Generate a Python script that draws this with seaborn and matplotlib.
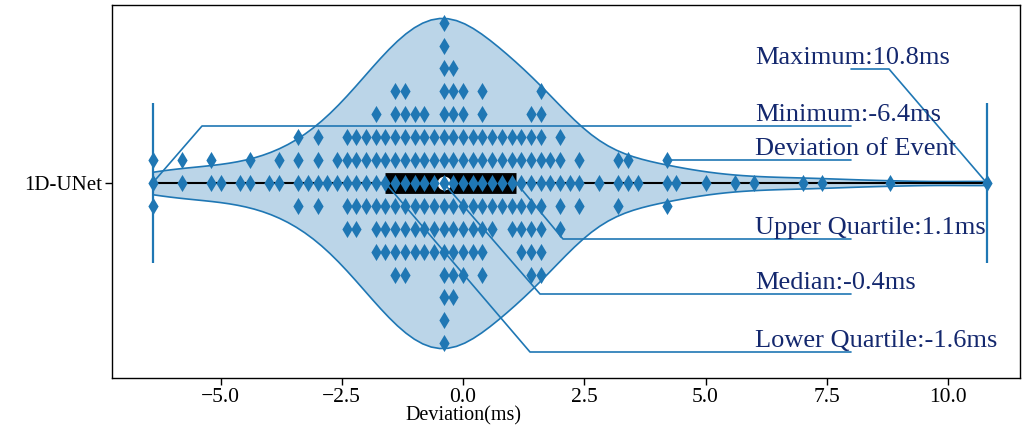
import numpy as np
import matplotlib
matplotlib.use("Agg")
import matplotlib.pyplot as plt
from matplotlib.colors import to_rgba
import seaborn as sns

# event deviations (ms), on a 0.2 ms grid, with how many events landed on each value
dev_values = [-6.4, -5.8, -5.2, -5.0, -4.6, -4.4, -4.0, -3.8,
              -3.4, -3.2, -3.0, -2.8, -2.6,
              -2.4, -2.2, -2.0, -1.8, -1.6,
              -1.4, -1.2, -1.0, -0.8, -0.6,
              -0.4, -0.2, 0.0, 0.2, 0.4,
              0.6, 0.8, 1.0, 1.2, 1.4, 1.6,
              1.8, 2.0, 2.2, 2.4, 2.8, 3.2, 3.4, 3.6,
              4.2, 4.4, 5.0, 5.6, 6.0, 7.0, 7.4, 8.8, 10.8]
dev_counts = [3, 2, 2, 1, 1, 2, 1, 2,
              4, 1, 4, 1, 2,
              5, 5, 4, 7, 6,
              9, 9, 7, 7, 6,
              15, 11, 9, 6, 9,
              5, 4, 5, 6, 8, 9,
              2, 5, 1, 3, 1, 3, 2, 1,
              3, 1, 1, 1, 1, 1, 1, 1, 1]
model_name = "1D-UNet"
event_pick = 4.2  # the point the "Deviation of Event" label points at

dev_data = np.repeat(dev_values, dev_counts)
model_col = [model_name] * len(dev_data)

q1, med, q3 = np.percentile(dev_data, [25, 50, 75])
dmin, dmax = dev_data.min(), dev_data.max()

# ---- layout (pixels of a 1023x437 figure) ----
DPI = 100
W, H = 1023, 437
AX_L, AX_T, AX_R, AX_B = 112, 5, 1020, 378
PX_PER_Y = 420.0          # pixels per category unit on y
CAT_PX = 183              # pixel row of the category
ROW_GAP_PX = 22.9         # vertical gap between swarm rows
SWARM_CALC_SIZE = 5.5     # marker size used while the swarm is laid out
DIAMOND_SIZE = 8.7        # marker size shown
BLUE = "#1f77b4"
TEXT_COLOR = "#14286e"

sns.set_theme(style="ticks", rc={"axes.edgecolor": "black", "axes.linewidth": 1.0,
                                 "xtick.color": "black", "ytick.color": "black",
                                 "axes.labelcolor": "black", "text.color": "black"})
plt.rcParams["font.family"] = ["Liberation Serif", "DejaVu Serif"]

fig = plt.figure(figsize=(W / DPI, H / DPI), dpi=DPI)
ax_h = AX_B - AX_T
ax = fig.add_axes([AX_L / W, (H - AX_B) / H, (AX_R - AX_L) / W, ax_h / H])

violin_width = 2 * 165 / PX_PER_Y
sns.violinplot(x=dev_data, y=model_col, orient="h", cut=0, inner=None,
               width=violin_width, density_norm="width", color=BLUE,
               saturation=1, linewidth=1.2, linecolor=BLUE, ax=ax)
body = ax.collections[0]
body.set_alpha(None)
body.set_facecolor(to_rgba(BLUE, 0.3))
body.set_edgecolor(to_rgba(BLUE, 1.0))
body.set_zorder(1)

# whisker, box and extrema marks
ax.hlines(0, dmin, dmax, color="black", lw=1.5, zorder=2)
ax.hlines(0, q1, q3, color="black", lw=15, capstyle="butt", zorder=2)
ax.vlines([dmin, dmax], -0.19, 0.19, color=BLUE, lw=1.6, zorder=2)
ax.scatter([med], [0], s=80, facecolor="white", edgecolor="white", zorder=2.5)

sns.swarmplot(x=dev_data, y=model_col, orient="h", color=BLUE, marker="d",
              size=SWARM_CALC_SIZE, linewidth=0, ax=ax, zorder=3)
pts = ax.collections[-1]

x_lo = (AX_L - 463) / 48.5
x_hi = (AX_R - 463) / 48.5
ax.set_xlim(x_lo, x_hi)

# lay the swarm out on a stretched y scale, then freeze it
step_data = ROW_GAP_PX / PX_PER_Y
calc_px_per_y = 1.05 * SWARM_CALC_SIZE * DPI / 72 / step_data
calc_span = ax_h / calc_px_per_y
ax.set_ylim(-calc_span / 2, calc_span / 2)
fig.canvas.draw()
del pts.draw
pts.set_sizes([DIAMOND_SIZE ** 2])

ax.set_ylim((AX_B - CAT_PX) / PX_PER_Y, -(CAT_PX - AX_T) / PX_PER_Y)


def py(p):
    return (p - CAT_PX) / PX_PER_Y


def px(p):
    return (p - 463) / 48.5


# label text, anchor point, knee x, level y
labels = [
    (f"Maximum:{dmax:.1f}ms", dmax, 0, px(889), py(69)),
    (f"Minimum:{dmin:.1f}ms", dmin, 0, px(202), py(126)),
    ("Deviation of Event", event_pick, -step_data, event_pick, -step_data),
    (f"Upper Quartile:{q3:.1f}ms", q3, 0, px(563), py(239)),
    (f"Median:{med:.1f}ms", med, 0, px(540), py(294)),
    (f"Lower Quartile:{q1:.1f}ms", q1, 0, px(530), py(352)),
]
text_x = px(755)
line_end = px(851)
for txt, ax0, ay0, kx, ly in labels:
    ax.plot([ax0, kx, line_end], [ay0, ly, ly], color=BLUE, lw=1.2, zorder=5)
    ax.text(text_x, ly, txt, ha="left", va="bottom", fontsize=19,
            color=TEXT_COLOR, zorder=6)

ax.set_xticks([-5, -2.5, 0, 2.5, 5, 7.5, 10])
ax.tick_params(axis="both", length=5, width=1, direction="out", pad=2)
ax.tick_params(axis="x", labelsize=15.5)
ax.tick_params(axis="y", labelsize=15)
ax.set_ylabel("")
ax.set_xlabel("Deviation(ms)", fontsize=14.5)
ax.xaxis.set_label_coords((463 - AX_L) / (AX_R - AX_L), -(406 - AX_B) / ax_h)
for sp in ax.spines.values():
    sp.set_visible(True)
    sp.set_color("black")

fig.savefig("out.png", dpi=DPI)
